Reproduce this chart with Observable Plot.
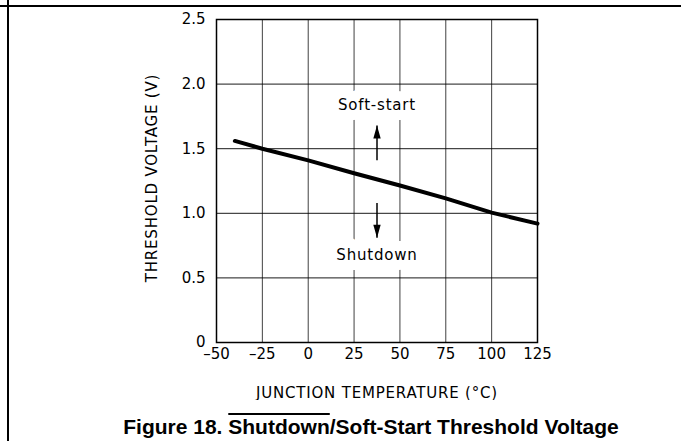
<!DOCTYPE html>
<html>
<head>
<meta charset="utf-8">
<script src="https://cdn.jsdelivr.net/npm/d3@7"></script>
<script src="https://cdn.jsdelivr.net/npm/@observablehq/plot@0.6"></script>
<style>
  html, body { margin: 0; padding: 0; background: #fff; }
  #page { position: relative; width: 681px; height: 441px; overflow: hidden; background: #fff; }
  #hline { position: absolute; left: 0; top: 5px; width: 681px; height: 2px; background: #000; }
  #vline { position: absolute; left: 7px; top: 0; width: 2px; height: 441px; background: #000; }
  #chart { position: absolute; left: 0; top: 0; }
  #title { position: absolute; left: 0; width: 742px; text-align: center; top: 415px; white-space: nowrap;
           font-family: "Liberation Sans", Arial, sans-serif; font-weight: bold; font-size: 21px; line-height: 24px; color: #000; }
  #title .ov { text-decoration: overline; text-decoration-thickness: 1.5px; }
</style>
</head>
<body>
<div id="page">
  <div id="hline"></div>
  <div id="vline"></div>
  <div id="chart"></div>
  <div id="title">Figure 18. <span class="ov">Shutdown</span>/Soft-Start Threshold Voltage</div>
</div>
<script>
// ---- data ----
const temperatures = [-40, -25, 0, 25, 50, 75, 100, 125];
const thresholdVolts = [1.56, 1.50, 1.41, 1.31, 1.215, 1.115, 1.005, 0.92];
const xTicks = [-50, -25, 0, 25, 50, 75, 100, 125];
const yTicks = [0, 0.5, 1.0, 1.5, 2.0, 2.5];
const xLabel = "JUNCTION TEMPERATURE (°C)";
const yLabel = "THRESHOLD VOLTAGE (V)";
const annotationText = ["Soft-start", "Shutdown"];
const annotationTemp = [37.5, 37.5];
const annotationVolt = [1.84, 0.675];
const arrowTemp = [37.5, 37.5];
const arrowFrom = [1.41, 1.08];
const arrowTo = [1.68, 0.81];

const lineData = temperatures.map((t, i) => ({t, v: thresholdVolts[i]}));
const annots = annotationText.map((s, i) => ({s, t: annotationTemp[i], v: annotationVolt[i]}));
const arrows = arrowTemp.map((t, i) => ({t, v1: arrowFrom[i], v2: arrowTo[i]}));

function filledArrow(color) {
  const m = d3.create("svg:marker")
    .attr("viewBox", "-13 -3.7 13 7.4")
    .attr("markerWidth", 13).attr("markerHeight", 7.4)
    .attr("markerUnits", "userSpaceOnUse")
    .attr("orient", "auto")
    .attr("refX", 0).attr("refY", 0)
    .attr("overflow", "visible");
  m.append("path").attr("d", "M-13,-3.7L0,0L-13,3.7Z").attr("fill", color).attr("stroke", "none");
  return m.node();
}

const fmtX = d => d < 0 ? "–" + Math.abs(d) : String(d);
const fmtY = d => d === 0 ? "0" : d.toFixed(1);

const plot = Plot.plot({
  width: 681,
  height: 400,
  marginLeft: 216,
  marginRight: 144,
  marginTop: 19,
  marginBottom: 58,
  style: {fontFamily: "DejaVu Sans, sans-serif", fontSize: "15px", background: "transparent", color: "#000"},
  x: {domain: [-50, 125], label: null},
  y: {domain: [0, 2.5], label: null},
  marks: [
    Plot.gridX(xTicks, {stroke: "#000", strokeOpacity: 0.75, strokeWidth: 1}),
    Plot.gridY(yTicks, {stroke: "#000", strokeOpacity: 0.9, strokeWidth: 1}),
    Plot.text(annots, {x: "t", y: "v", text: "s", fill: "#000", stroke: "#fff", strokeWidth: 20, fontSize: 15}),
    Plot.frame({stroke: "#000", strokeWidth: 1.5}),
    Plot.axisX({ticks: xTicks, tickSize: 0, tickPadding: 6, tickFormat: fmtX, label: null, fontSize: 15}),
    Plot.axisY({ticks: yTicks, tickSize: 0, tickPadding: 11, tickFormat: fmtY, label: null, fontSize: 15}),
    Plot.text([xLabel], {frameAnchor: "bottom", dy: 55, fontSize: 15}),
    Plot.text([yLabel], {frameAnchor: "left", textAnchor: "middle", dx: -64, dy: -3, rotate: -90, fontSize: 15}),
    Plot.link(arrows, {x1: "t", y1: "v1", x2: "t", y2: "v2", stroke: "#000", strokeWidth: 1.5, markerEnd: filledArrow}),
    Plot.line(lineData, {x: "t", y: "v", stroke: "#000", strokeWidth: 4})
  ]
});

const spaced = new Set([xLabel, yLabel, ...annotationText]);
d3.select(plot).selectAll("text")
  .filter(function() { return spaced.has(this.textContent); })
  .style("letter-spacing", "0.8px");
document.getElementById("chart").appendChild(plot);
</script>
</body>
</html>
